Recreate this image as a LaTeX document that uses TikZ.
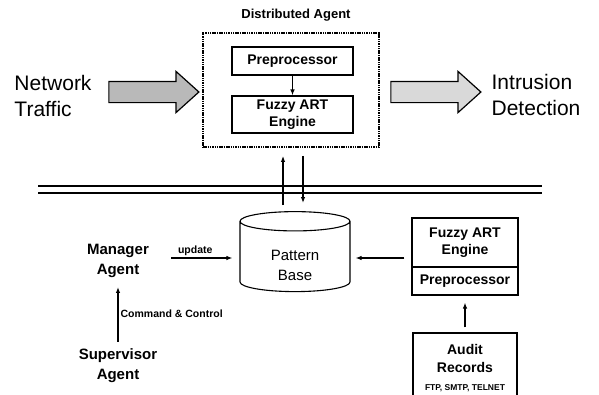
\documentclass[tikz,border=0pt]{standalone}
\usepackage{fontspec}
\setmainfont{Liberation Sans}
\usetikzlibrary{shapes.geometric,shapes.arrows,arrows.meta}

\begin{document}
\begin{tikzpicture}[x=1pt,y=-1pt]
        \tikzstyle{every node}=[font=\bfseries\fontsize{14}{17}\selectfont, inner sep=2pt, text=black]
        \tikzstyle{box}=[rectangle, draw=black, line width=1.1pt, align=center]
        \tikzstyle{bigarrow}=[single arrow, draw=black, line width=1.2pt, minimum height=90pt, inner xsep=0pt, inner ysep=10pt, single arrow head extend=10pt, single arrow tip angle=84]
        \tikzstyle{arr}=[-{Latex[length=6pt,width=4.5pt]}, line width=1.3pt]
        \tikzstyle{agent}=[font=\bfseries\fontsize{15}{20}\selectfont, align=center]
        \tikzstyle{tag}=[font=\bfseries\fontsize{10.5}{12}\selectfont]

        \useasboundingbox (0,0) rectangle (599,394);

        \node[font=\bfseries\fontsize{13}{15}\selectfont] (dlabel) at (296,15) {Distributed Agent};
        \node[box, dash pattern=on 1.5pt off 0.8pt, line width=1.8pt, minimum width=176pt, minimum height=114pt] (dagent) at (291,90) {};
        \node[box, minimum width=121pt, minimum height=28pt] (pre1)  at (292.5,61)    {Preprocessor};
        \node[box, minimum width=121pt, minimum height=37pt] (fart1) at (292.5,114.5) {Fuzzy ART\\Engine};

        \node[font=\fontsize{21}{26}\selectfont, align=left] (traffic) at (53,96) {Network\\Traffic};
        \node[font=\fontsize{21}{26}\selectfont, align=left] (detect)  at (536,95) {Intrusion\\Detection};
        \node[bigarrow, fill=gray!55] (inarrow)  at (148,92) {};
        \node[bigarrow, fill=gray!30] (outarrow) at (430,92) {};

        \coordinate (railL) at (38,189.5);
        \coordinate (railR) at (542,189.5);
        \draw[double distance=5.5pt, line width=1.4pt] (railL) -- (railR);

        \node[draw, cylinder, shape border rotate=90, aspect=0.3, minimum width=110pt, minimum height=80pt, line width=1.1pt, font=\fontsize{15}{20}\selectfont] (pbase) at (295,258)
            {\raisebox{-8pt}[\height][\depth]{\begin{tabular}{c} Pattern \\ Base \end{tabular}}};

        \node[box, minimum width=106pt, minimum height=49pt] (fart2) at (465,242.5) {Fuzzy ART\\Engine};
        \node[box, minimum width=106pt, minimum height=28pt] (pre2)  at (465,281)   {Preprocessor};
        \node[box, minimum width=104pt, minimum height=70pt, font=\bfseries\fontsize{14}{18}\selectfont] (audit) at (465,368) {Audit\\Records\\{\fontsize{8.5}{10}\selectfont FTP, SMTP, TELNET}};

        \node[agent] (manager)    at (118,261) {Manager\\Agent};
        \node[agent] (supervisor) at (118,366) {Supervisor\\Agent};

        \draw[arr] (pre1) -- (fart1);
        \draw[arr, shorten <=6pt, shorten >=8pt] ([xshift=-12pt]pbase.north) -- ([xshift=-12pt]pbase.north |- dagent.south);
        \draw[arr, shorten <=8pt, shorten >=8pt] ([xshift=8pt]pbase.north |- dagent.south) -- ([xshift=8pt]pbase.north);
        \draw[arr, shorten <=7pt, shorten >=5pt] (pbase.east -| fart2.west) -- (pbase.east);
        \draw[arr, shorten <=20pt, shorten >=7pt] (manager.east |- pbase.west) -- (pbase.west) node[tag, midway, above] {update};
        \draw[arr, shorten <=5pt, shorten >=7pt] (supervisor) -- (manager) node[tag, midway, right] {Command \& Control};
        \draw[arr, shorten <=5pt, shorten >=7pt] (audit) -- (pre2);
\end{tikzpicture}
\end{document}
